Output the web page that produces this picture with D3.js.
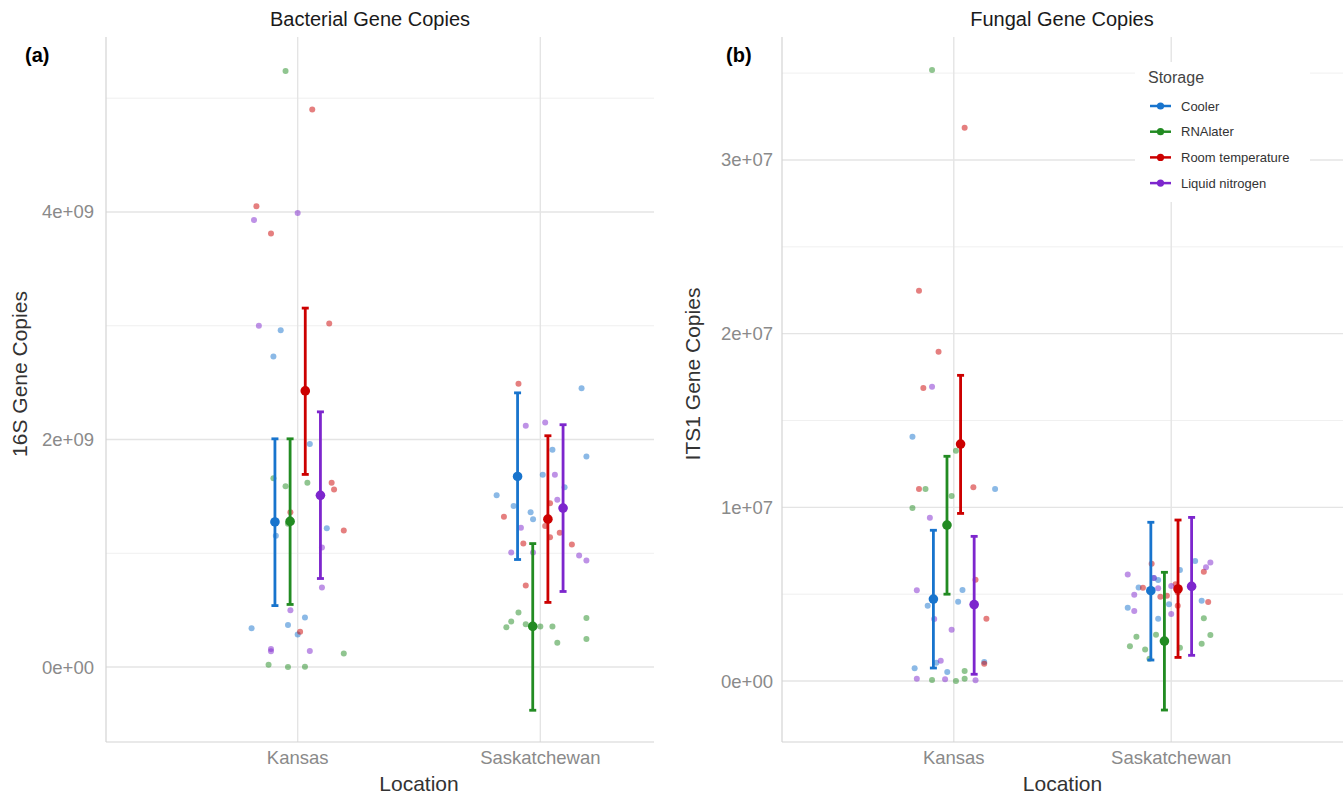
<!DOCTYPE html>
<html>
<head>
<meta charset="utf-8">
<script src="https://cdn.jsdelivr.net/npm/d3@7"></script>
<style>
  body { margin: 0; background: #fff; }
  svg { font-family: "Liberation Sans", Arial, sans-serif; }
</style>
</head>
<body>
<div id="chart"></div>
<script>
// categories
var locations = ["Kansas", "Saskatchewan"];
var storage = ["Cooler", "RNAlater", "Room temperature", "Liquid nitrogen"];
var colors = ["#1874CD", "#228B22", "#CC0000", "#7D26CD"];

// 16S gene copies, one array per storage (Cooler, RNAlater, Room temp, Liquid N2)
var bacKansas = [
  [2.96e9, 2.73e9, 1.96e9, 1.22e9, 1.155e9, 0.436e9, 0.37e9, 0.34e9, 0.287e9],
  [5.24e9, 1.66e9, 1.62e9, 1.59e9, 1.26e9, 0.12e9, 0.02e9, 0.0, 0.003e9],
  [4.90e9, 4.05e9, 3.81e9, 3.02e9, 1.62e9, 1.56e9, 1.36e9, 1.20e9, 0.31e9],
  [3.99e9, 3.93e9, 3.0e9, 1.05e9, 0.70e9, 0.50e9, 0.158e9, 0.138e9, 0.14e9]
];
var bacKansasJitter = [
  [-0.07, -0.10, 0.05, 0.12, -0.09, 0.03, -0.04, -0.19, 0.00],
  [-0.05, -0.10, 0.04, -0.05, -0.04, 0.19, -0.12, -0.04, 0.03],
  [0.06, -0.17, -0.11, 0.13, 0.14, 0.15, -0.03, 0.19, 0.01],
  [0.00, -0.18, -0.16, 0.10, 0.10, -0.03, -0.11, -0.11, 0.05]
];
var bacSask = [
  [2.45e9, 1.91e9, 1.85e9, 1.69e9, 1.58e9, 1.51e9, 1.415e9, 1.36e9, 1.30e9],
  [0.48e9, 0.43e9, 0.40e9, 0.375e9, 0.357e9, 0.357e9, 0.35e9, 0.246e9, 0.213e9],
  [2.49e9, 1.44e9, 1.32e9, 1.24e9, 1.18e9, 1.14e9, 1.085e9, 1.076e9, 0.717e9],
  [2.15e9, 2.12e9, 1.69e9, 1.47e9, 1.225e9, 1.006e9, 1.006e9, 0.98e9, 0.936e9]
];
var bacSaskJitter = [
  [0.17, 0.05, 0.19, 0.01, 0.10, -0.18, -0.11, -0.04, -0.03],
  [-0.09, 0.19, -0.12, -0.06, 0.00, 0.05, -0.14, 0.19, 0.07],
  [-0.09, 0.04, -0.15, 0.02, 0.08, 0.04, -0.07, 0.13, -0.06],
  [0.02, -0.06, 0.06, 0.07, -0.08, -0.12, -0.03, 0.16, 0.19]
];
// mean and error bar limits, per location then storage
var bacMean = [[1.275e9, 1.28e9, 2.427e9, 1.509e9], [1.675e9, 0.357e9, 1.30e9, 1.397e9]];
var bacLow  = [[0.54e9, 0.55e9, 1.693e9, 0.778e9], [0.945e9, -0.38e9, 0.568e9, 0.664e9]];
var bacHigh = [[2.006e9, 2.006e9, 3.155e9, 2.243e9], [2.41e9, 1.085e9, 2.033e9, 2.13e9]];

// ITS1 gene copies
var funKansas = [
  [1.406e7, 1.105e7, 0.524e7, 0.457e7, 0.434e7, 0.109e7, 0.105e7, 0.073e7, 0.052e7],
  [3.518e7, 1.326e7, 1.105e7, 1.065e7, 0.996e7, 0.058e7, 0.013e7, 0.006e7, 0.0],
  [3.185e7, 2.247e7, 1.896e7, 1.687e7, 1.115e7, 1.105e7, 0.583e7, 0.359e7, 0.10e7],
  [1.694e7, 0.94e7, 0.522e7, 0.357e7, 0.295e7, 0.117e7, 0.013e7, 0.01e7, 0.004e7]
];
var funKansasJitter = [
  [-0.19, 0.19, 0.04, 0.02, -0.12, 0.14, -0.08, -0.18, -0.03],
  [-0.10, 0.01, -0.13, -0.01, -0.19, 0.05, 0.05, -0.10, 0.01],
  [0.05, -0.16, -0.07, -0.14, 0.09, -0.16, 0.10, 0.15, 0.14],
  [-0.10, -0.11, -0.17, -0.09, -0.01, -0.06, -0.17, -0.04, 0.10]
];
var funSask = [
  [0.691e7, 0.639e7, 0.593e7, 0.581e7, 0.539e7, 0.462e7, 0.442e7, 0.422e7, 0.359e7],
  [0.361e7, 0.267e7, 0.265e7, 0.255e7, 0.215e7, 0.20e7, 0.192e7, 0.182e7, 0.128e7],
  [0.675e7, 0.629e7, 0.557e7, 0.537e7, 0.51e7, 0.491e7, 0.485e7, 0.455e7, 0.434e7],
  [0.683e7, 0.655e7, 0.614e7, 0.593e7, 0.547e7, 0.534e7, 0.497e7, 0.403e7, 0.386e7]
];
var funSaskJitter = [
  [0.11, 0.04, -0.08, -0.06, -0.15, 0.14, -0.01, -0.20, -0.06],
  [0.15, -0.07, 0.18, -0.16, 0.14, -0.19, 0.04, -0.12, -0.10],
  [-0.09, 0.15, 0.02, -0.13, 0.03, -0.02, -0.05, 0.17, 0.03],
  [0.18, 0.16, -0.20, -0.08, 0.00, -0.06, -0.17, -0.17, 0.00]
];
var funMean = [[0.472e7, 0.898e7, 1.364e7, 0.44e7], [0.52e7, 0.23e7, 0.53e7, 0.545e7]];
var funLow  = [[0.075e7, 0.50e7, 0.965e7, 0.039e7], [0.121e7, -0.167e7, 0.136e7, 0.148e7]];
var funHigh = [[0.868e7, 1.294e7, 1.76e7, 0.833e7], [0.914e7, 0.626e7, 0.927e7, 0.942e7]];

// tick values
var bacTicks = [0, 2e9, 4e9];
var bacMinor = [1e9, 3e9, 5e9];
var funTicks = [0, 1e7, 2e7, 3e7];
var funMinor = [0.5e7, 1.5e7, 2.5e7, 3.5e7];

var W = 1343, H = 796;
var svg = d3.select("#chart").append("svg")
  .attr("width", W).attr("height", H);

// 4e+09 style labels
var sci = function(v) {
  if (v === 0) return "0e+00";
  var e = Math.floor(Math.log10(Math.abs(v)));
  var m = Math.round(v / Math.pow(10, e));
  return m + "e+" + (e < 10 ? "0" + e : e);
};

var dodge = [-0.09375, -0.03125, 0.03125, 0.09375];

var drawPanel = function(o) {
  var x = d3.scaleLinear().domain([-0.79, 1.79]).range([o.x0, o.x1]);
  var y = d3.scaleLinear().domain(o.ydom).range([742, 37]);
  var right = o.clipRight;

  var g = svg.append("g");
  var clipId = "clip" + o.id;
  svg.append("clipPath").attr("id", clipId)
    .append("rect").attr("x", o.x0).attr("y", 30).attr("width", right - o.x0).attr("height", 720);
  var pg = g.append("g").attr("clip-path", "url(#" + clipId + ")");

  // grid
  pg.selectAll(".minor").data(o.minor).enter().append("line")
    .attr("x1", o.x0).attr("x2", right)
    .attr("y1", function(d) { return y(d); }).attr("y2", function(d) { return y(d); })
    .attr("stroke", "#ececec").attr("stroke-width", 0.8);
  pg.selectAll(".major").data(o.ticks).enter().append("line")
    .attr("x1", o.x0).attr("x2", right)
    .attr("y1", function(d) { return y(d); }).attr("y2", function(d) { return y(d); })
    .attr("stroke", "#e4e4e4").attr("stroke-width", 1.4);
  pg.selectAll(".vgrid").data(locations).enter().append("line")
    .attr("x1", function(d, i) { return x(i); }).attr("x2", function(d, i) { return x(i); })
    .attr("y1", 37).attr("y2", 742)
    .attr("stroke", "#e4e4e4").attr("stroke-width", 1.4);

  // axis lines
  g.append("line").attr("x1", o.x0).attr("x2", o.x0).attr("y1", 37).attr("y2", 742)
    .attr("stroke", "#d4d4d4").attr("stroke-width", 1.2);
  g.append("line").attr("x1", o.x0).attr("x2", right).attr("y1", 742).attr("y2", 742)
    .attr("stroke", "#d4d4d4").attr("stroke-width", 1.2);

  // tick labels
  g.selectAll(".ylab").data(o.ticks).enter().append("text")
    .attr("x", o.x0 - o.tickGap).attr("y", function(d) { return y(d); })
    .attr("dy", "0.35em").attr("text-anchor", "end")
    .attr("font-size", "18.5px").attr("fill", "#8a8a8a")
    .text(sci);
  g.selectAll(".xlab").data(locations).enter().append("text")
    .attr("x", function(d, i) { return x(i); }).attr("y", 764)
    .attr("text-anchor", "middle")
    .attr("font-size", "18.5px").attr("fill", "#8a8a8a")
    .text(function(d) { return d; });

  // titles
  g.append("text").attr("x", o.titleX).attr("y", 26).attr("text-anchor", "middle")
    .attr("font-size", "20px").attr("fill", "#1a1a1a").text(o.title);
  g.append("text").attr("x", o.tagX).attr("y", 62)
    .attr("font-size", "20px").attr("font-weight", "bold").attr("fill", "#000").text(o.tag);
  g.append("text").attr("x", (o.x0 + o.x1) / 2).attr("y", 791).attr("text-anchor", "middle")
    .attr("font-size", "21px").attr("fill", "#333").text("Location");
  g.append("text")
    .attr("transform", "translate(" + o.yTitleX + ",374) rotate(-90)")
    .attr("text-anchor", "middle").attr("font-size", "21px").attr("fill", "#333")
    .text(o.yTitle);

  // jittered points
  var pts = [];
  o.values.forEach(function(loc, li) {
    loc.forEach(function(arr, si) {
      arr.forEach(function(v, k) {
        pts.push({ loc: li, s: si, v: v, j: o.jitter[li][si][k] });
      });
    });
  });
  pg.selectAll(".pt").data(pts).enter().append("circle")
    .attr("cx", function(d) { return x(d.loc + d.j); })
    .attr("cy", function(d) { return y(d.v); })
    .attr("r", 3)
    .attr("fill", function(d) { return colors[d.s]; })
    .attr("fill-opacity", 0.5);

  // error bars and means
  var sums = [];
  locations.forEach(function(l, li) {
    storage.forEach(function(s, si) {
      sums.push({ loc: li, s: si, m: o.mean[li][si], lo: o.low[li][si], hi: o.high[li][si] });
    });
  });
  var cx = function(d) { return x(d.loc + dodge[d.s]); };
  var eb = pg.selectAll(".eb").data(sums).enter().append("g");
  eb.append("line")
    .attr("x1", cx).attr("x2", cx)
    .attr("y1", function(d) { return y(d.lo); }).attr("y2", function(d) { return y(d.hi); })
    .attr("stroke", function(d) { return colors[d.s]; }).attr("stroke-width", 2.8);
  [["lo"], ["hi"]].forEach(function(k) {
    eb.append("line")
      .attr("x1", function(d) { return cx(d) - 3.5; }).attr("x2", function(d) { return cx(d) + 3.5; })
      .attr("y1", function(d) { return y(d[k[0]]); }).attr("y2", function(d) { return y(d[k[0]]); })
      .attr("stroke", function(d) { return colors[d.s]; }).attr("stroke-width", 2.8);
  });
  eb.append("circle")
    .attr("cx", cx).attr("cy", function(d) { return y(d.m); })
    .attr("r", 4.8)
    .attr("fill", function(d) { return colors[d.s]; });
};

drawPanel({
  id: "a", x0: 106, x1: 732, clipRight: 654,
  ydom: [-0.659e9, 5.538e9], ticks: bacTicks, minor: bacMinor, tickGap: 12,
  values: [bacKansas, bacSask], jitter: [bacKansasJitter, bacSaskJitter],
  mean: bacMean, low: bacLow, high: bacHigh,
  title: "Bacterial Gene Copies", titleX: 370, tag: "(a)", tagX: 25,
  yTitle: "16S Gene Copies", yTitleX: 27
});
drawPanel({
  id: "b", x0: 782, x1: 1343, clipRight: 1343,
  ydom: [-0.351e7, 3.708e7], ticks: funTicks, minor: funMinor, tickGap: 9,
  values: [funKansas, funSask], jitter: [funKansasJitter, funSaskJitter],
  mean: funMean, low: funLow, high: funHigh,
  title: "Fungal Gene Copies", titleX: 1062, tag: "(b)", tagX: 726,
  yTitle: "ITS1 Gene Copies", yTitleX: 700
});

// legend
var lg = svg.append("g");
lg.append("rect").attr("x", 1135).attr("y", 62).attr("width", 175).attr("height", 140)
  .attr("fill", "#fff");
lg.append("text").attr("x", 1148).attr("y", 83)
  .attr("font-size", "16px").attr("fill", "#444").text("Storage");
var items = lg.selectAll(".item").data(storage).enter().append("g")
  .attr("transform", function(d, i) { return "translate(0," + (106 + i * 25.7) + ")"; });
items.append("line").attr("x1", 1150).attr("x2", 1171).attr("y1", 0).attr("y2", 0)
  .attr("stroke", function(d, i) { return colors[i]; }).attr("stroke-width", 2.5);
items.append("circle").attr("cx", 1160.5).attr("cy", 0).attr("r", 3.6)
  .attr("fill", function(d, i) { return colors[i]; });
items.append("text").attr("x", 1181).attr("y", 0).attr("dy", "0.35em")
  .attr("font-size", "13px").attr("fill", "#333")
  .text(function(d) { return d; });
</script>
</body>
</html>
